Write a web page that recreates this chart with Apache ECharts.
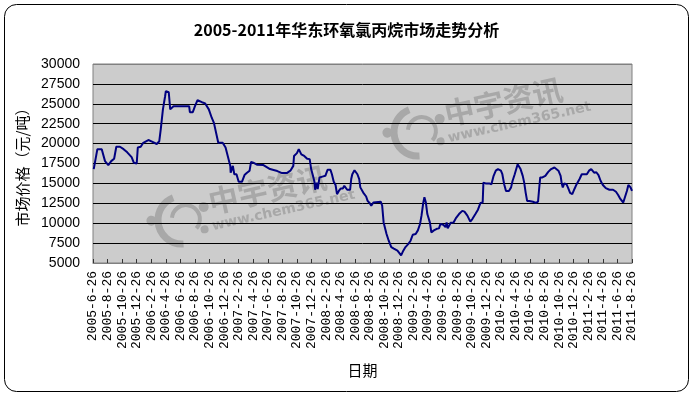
<!DOCTYPE html>
<html>
<head>
<meta charset="utf-8">
<script src="https://cdn.jsdelivr.net/npm/echarts@6/dist/echarts.min.js"></script>
<style>html,body{margin:0;padding:0;background:#fff;}#c{width:693px;height:396px;}</style>
</head>
<body>
<div id="c"></div>
<script>
// x = months elapsed since 2005-6-26
var months = [0.1,0.6,1.2,1.65,2.1,2.5,2.9,3.2,3.7,4.2,4.7,5.3,5.6,6.0,6.15,6.55,6.9,7.6,8.1,8.75,9.1,9.3,9.6,9.9,10.0,10.4,10.6,11.05,13.2,13.3,13.7,14.0,14.35,14.95,15.4,15.9,16.3,16.6,17.2,17.8,18.2,18.5,18.85,18.9,19.2,19.4,19.7,20.0,20.45,20.8,21.1,21.5,21.7,22.0,22.5,23.4,24.3,25.3,25.95,26.6,27.1,27.5,27.6,28.0,28.25,28.6,29.0,29.4,29.75,29.95,30.2,30.4,30.5,30.7,30.85,31.1,31.5,31.9,32.2,32.6,32.8,33.05,33.3,33.5,33.75,34.0,34.3,34.5,34.9,35.3,35.45,35.6,35.9,36.3,36.55,36.7,37.1,37.5,37.7,38.0,38.2,38.5,39.5,39.7,39.9,40.3,40.6,40.95,41.3,41.8,42.05,42.3,42.6,42.9,43.3,43.6,43.9,44.3,44.6,44.9,45.1,45.35,45.5,45.7,45.9,46.25,46.45,46.8,47.2,47.5,47.7,48.1,48.4,48.55,48.7,49.1,49.5,49.8,50.25,50.7,51.0,51.4,51.8,52.1,52.5,52.85,53.2,53.5,53.6,53.9,54.4,54.7,55.0,55.3,55.6,56.0,56.2,56.45,56.7,57.1,57.4,57.6,57.9,58.3,58.5,58.7,59.0,59.2,59.4,59.6,59.9,60.4,60.8,61.1,61.25,61.4,61.7,62.1,62.5,62.9,63.35,63.6,63.9,64.2,64.35,64.5,64.7,65.0,65.2,65.5,65.8,66.1,66.4,66.8,67.1,67.8,68.1,68.4,68.6,68.8,69.1,69.4,69.7,70.0,70.4,70.9,71.4,71.8,72.1,72.4,72.8,73.05,73.3,73.5,73.8,74.0];
var prices = [16800,19300,19300,17800,17300,17800,18100,19600,19600,19300,18900,18300,17600,17500,19500,19600,20100,20450,20250,19950,20300,21800,24300,25950,26600,26450,24300,24700,24700,23950,23950,24700,25450,25200,25050,24300,23250,22600,20100,20100,19500,18450,17200,16350,17200,16150,16150,15200,15200,16050,16300,16600,17700,17600,17350,17300,16800,16550,16300,16300,16600,17200,18450,18800,19300,18650,18450,18100,18050,16800,15950,15200,14200,15100,14300,15750,15850,15950,16700,16700,16150,15200,14800,13650,14050,14350,14350,14700,14200,14200,15550,16150,16650,16150,15550,14500,13850,13350,12800,12500,12200,12600,12700,12200,10100,8650,7800,7000,6800,6550,6300,5950,6550,7000,7400,7800,8550,8650,9100,9900,10950,12600,13250,12600,11150,10100,8850,9100,9300,9350,9900,9800,9500,10100,9350,10050,10100,10600,11150,11550,11450,10950,10200,10550,11150,11700,12550,12600,15100,15000,15000,14900,15950,16600,16800,16600,16150,14900,14050,14050,14500,15300,16150,17400,17200,16800,15950,15100,13850,12800,12800,12700,12550,12700,14300,15750,15750,15950,16450,16800,17000,17100,16600,15950,15000,14500,15000,14900,14500,13800,13650,14300,14900,15550,16150,16150,16600,16800,16700,16350,16400,16050,15300,14800,14400,14200,14200,13950,13550,13050,12600,12800,14050,14800,14500,14050];
var xLabels = ['2005-6-26','2005-8-26','2005-10-26','2005-12-26','2006-2-26','2006-4-26','2006-6-26','2006-8-26','2006-10-26','2006-12-26','2007-2-26','2007-4-26','2007-6-26','2007-8-26','2007-10-26','2007-12-26','2008-2-26','2008-4-26','2008-6-26','2008-8-26','2008-10-26','2008-12-26','2009-2-26','2009-4-26','2009-6-26','2009-8-26','2009-10-26','2009-12-26','2010-2-26','2010-4-26','2010-6-26','2010-8-26','2010-10-26','2010-12-26','2011-2-26','2011-4-26','2011-6-26','2011-8-26'];
var yTicks = [5000,7500,10000,12500,15000,17500,20000,22500,25000,27500,30000];
var titleText = '2005-2011年华东环氧氯丙烷市场走势分析';
var yName = '市场价格（元/吨）';
var xName = '日期';

var points = months.map(function (m, i) { return [m, prices[i]]; });
var splitColors = yTicks.map(function (v, i) { return (i === 0 || i === yTicks.length - 1) ? '#808080' : '#000000'; });

function watermark(x, y) {
  var g = '#a8a8a8';
  return {
    type: 'group', x: x, y: y, rotation: 0.22, z: 1, silent: true,
    children: [
      { type: 'arc', shape: { cx: 0, cy: 0, r: 24, startAngle: Math.PI * 0.55, endAngle: Math.PI * 1.45 }, style: { stroke: g, lineWidth: 7, fill: null } },
      { type: 'arc', shape: { cx: 4, cy: 0, r: 14, startAngle: Math.PI * 1.1, endAngle: Math.PI * 0.3, clockwise: true }, style: { stroke: g, lineWidth: 4, fill: null } },
      { type: 'circle', shape: { cx: -30, cy: -6, r: 5 }, style: { fill: g } },
      { type: 'circle', shape: { cx: 24, cy: -8, r: 5 }, style: { fill: g } },
      { type: 'circle', shape: { cx: 20, cy: 14, r: 4 }, style: { fill: g } },
      { type: 'text', x: 30, y: 4, style: { text: '中宇资讯', font: 'bold 30px "Noto Sans CJK SC"', fill: g, textVerticalAlign: 'bottom' } },
      { type: 'text', x: 28, y: 6, style: { text: 'www.chem365.net', font: 'bold 14px "DejaVu Sans"', fill: g, textVerticalAlign: 'top' } }
    ]
  };
}

var chart = echarts.init(document.getElementById('c'), null, { renderer: 'canvas' });
chart.setOption({
  backgroundColor: '#ffffff',
  animation: false,
  title: {
    text: titleText, left: 'center', top: 17,
    textStyle: { fontSize: 16, fontWeight: 'bold', color: '#000', fontFamily: '"Noto Sans CJK SC"' }
  },
  grid: {
    left: 93, right: 61, top: 64, bottom: 133,
    show: true, backgroundColor: '#cccccc', borderColor: '#808080', borderWidth: 1
  },
  graphic: [
    { type: 'rect', shape: { x: 4.5, y: 4.5, width: 684, height: 387, r: 12 }, style: { fill: null, stroke: '#000', lineWidth: 1 }, z: 0, silent: true },
    watermark(182, 220),
    watermark(418, 132)
  ],
  xAxis: {
    type: 'value', min: 0, max: 74, interval: 2,
    name: xName, nameLocation: 'middle', nameGap: 100,
    nameTextStyle: { fontSize: 15, color: '#000', fontFamily: '"Noto Sans CJK SC"' },
    axisLine: { show: true, lineStyle: { color: '#808080', width: 1 } },
    axisTick: { show: true, inside: true, length: 4, lineStyle: { color: '#333' } },
    axisLabel: {
      rotate: 90, margin: 8, fontSize: 13, color: '#000', fontFamily: '"Liberation Mono"',
      formatter: function (v) { return xLabels[Math.round(v / 2)] || ''; }
    },
    splitLine: { show: false }
  },
  yAxis: {
    type: 'value', min: 5000, max: 30000, interval: 2500,
    name: yName, nameLocation: 'middle', nameGap: 54, nameRotate: 90,
    nameTextStyle: { fontSize: 15, color: '#000', fontFamily: '"Noto Sans CJK SC"' },
    axisLine: { show: false }, axisTick: { show: false },
    axisLabel: { margin: 13, fontSize: 14, color: '#000', fontFamily: '"Liberation Sans"',
      formatter: function (v) { return String(v); } },
    splitLine: { show: true, lineStyle: { color: splitColors, width: 1 } }
  },
  series: [{
    type: 'line', data: points, showSymbol: false, z: 3,
    lineStyle: { color: '#000080', width: 2 }, itemStyle: { color: '#000080' }
  }]
});
</script>
</body>
</html>
